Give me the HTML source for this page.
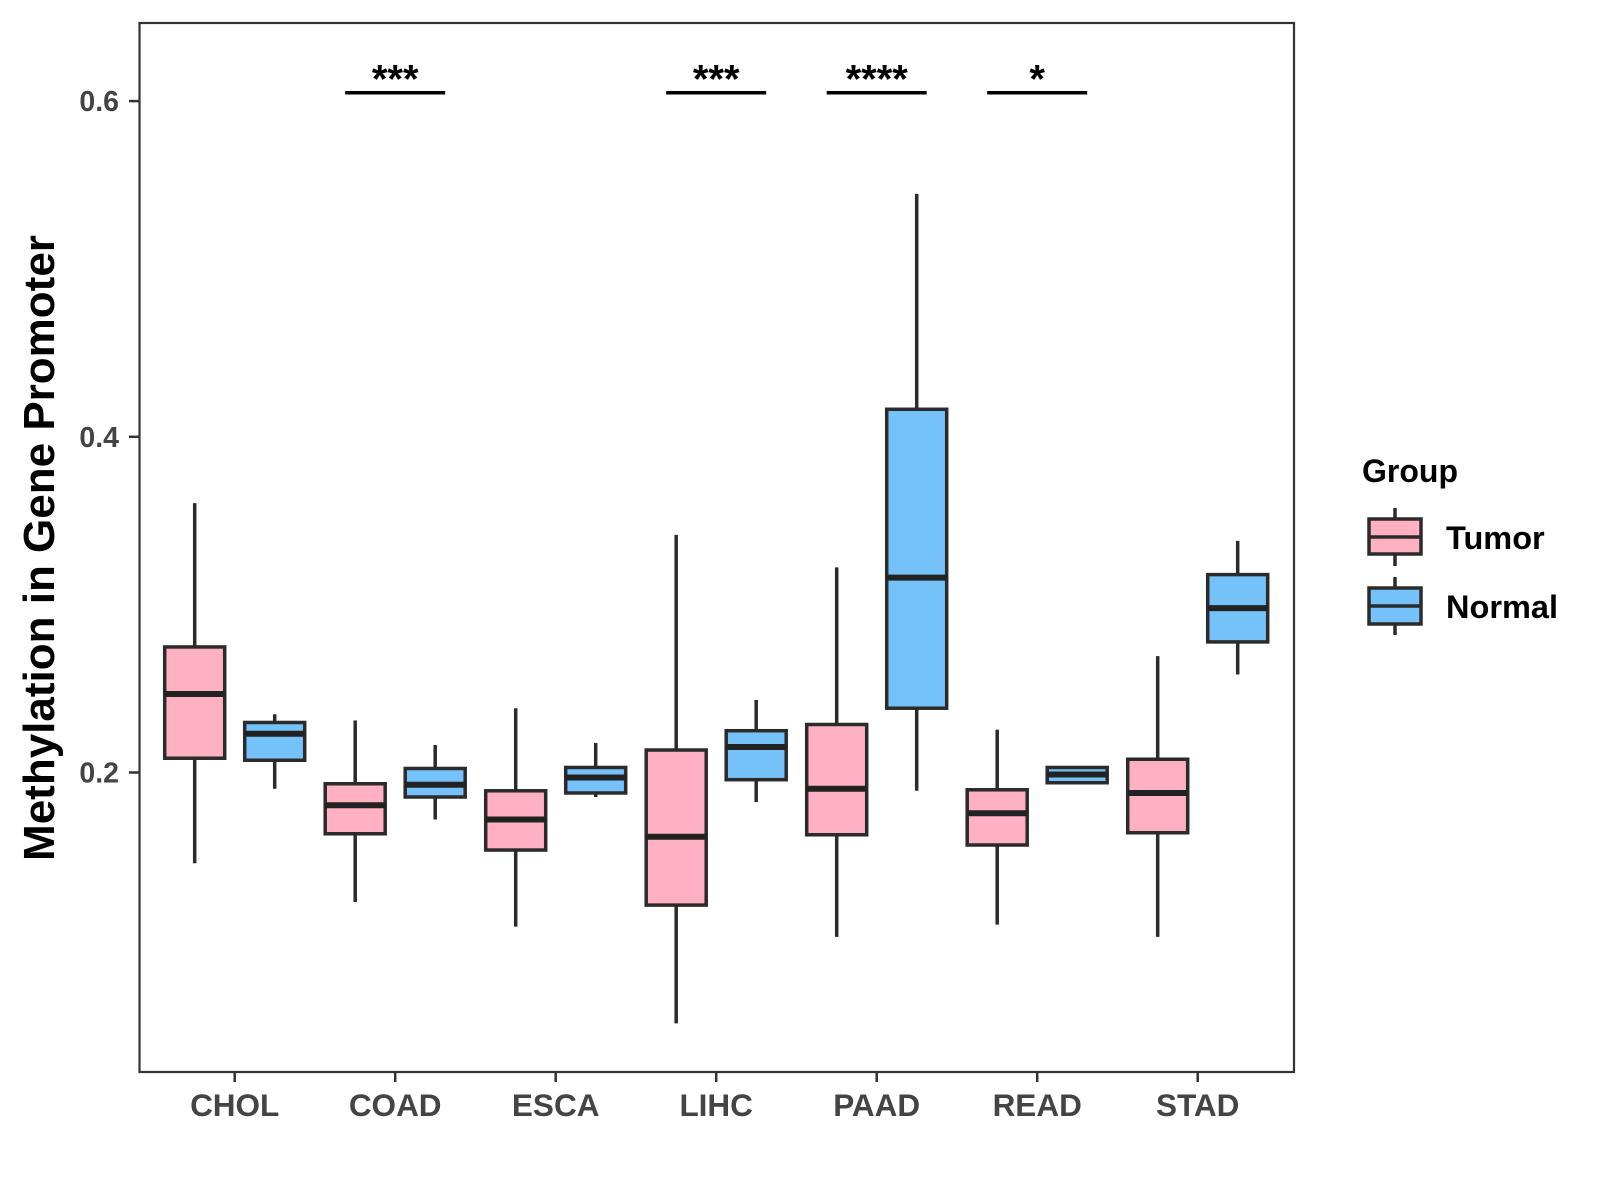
<!DOCTYPE html>
<html><head><meta charset="utf-8"><style>
body{margin:0;background:#fff}
svg{display:block;font-family:"Liberation Sans",sans-serif;font-weight:bold}
</style></head><body>
<svg id="chart" width="1600" height="1200" viewBox="0 0 1600 1200">
<rect x="0" y="0" width="1600" height="1200" fill="#fff"/>
<g id="marks"></g>
<rect x="139.5" y="23" width="1154.5" height="1049" fill="none" stroke="#333" stroke-width="2.2"/>
<g id="axes"></g>
<text x="0" y="0" transform="translate(54,548) rotate(-90)" text-anchor="middle" font-size="44" fill="#000">Methylation in Gene Promoter</text>
<g>
<text x="1362" y="482" font-size="32" fill="#000">Group</text>
<g>
<line x1="1395" y1="508" x2="1395" y2="566" stroke="#2b2b2b" stroke-width="3.5"/>
<rect x="1369" y="519" width="52" height="35" fill="#FFB1C1" stroke="#2b2b2b" stroke-width="3.5"/>
<line x1="1369" y1="537" x2="1421" y2="537" stroke="#2b2b2b" stroke-width="3.5"/>
<text x="1446" y="549" font-size="32.5" fill="#000">Tumor</text>
</g>
<g>
<line x1="1395" y1="577" x2="1395" y2="635" stroke="#2b2b2b" stroke-width="3.5"/>
<rect x="1369" y="588" width="52" height="36" fill="#75C1F9" stroke="#2b2b2b" stroke-width="3.5"/>
<line x1="1369" y1="606" x2="1421" y2="606" stroke="#2b2b2b" stroke-width="3.5"/>
<text x="1446" y="618" font-size="32.5" fill="#000">Normal</text>
</g>
</g>
</svg>
<script>
const categories=["CHOL","COAD","ESCA","LIHC","PAAD","READ","STAD"];
const tumorStats=[[0.1459,0.2085,0.2468,0.2748,0.3605],[0.1228,0.1635,0.1805,0.1933,0.2310],[0.1082,0.1538,0.1720,0.1891,0.2383],[0.0505,0.1210,0.1617,0.2134,0.3416],[0.1021,0.1629,0.1903,0.2286,0.3222],[0.1094,0.1568,0.1757,0.1897,0.2255],[0.1021,0.1641,0.1878,0.2079,0.2693]];
const normalStats=[[0.1903,0.2073,0.2231,0.2298,0.2347],[0.1720,0.1854,0.1927,0.2024,0.2164],[0.1854,0.1878,0.1970,0.2030,0.2176],[0.1824,0.1957,0.2152,0.2249,0.2432],[0.1891,0.2383,0.3161,0.4164,0.5447],[0.1939,0.1939,0.1988,0.2030,0.2030],[0.2584,0.2778,0.2979,0.3179,0.3380]];
const yTicks=[0.2,0.4,0.6];
const yTickLabels=["0.2","0.4","0.6"];
const sigCategories=["COAD","LIHC","PAAD","READ"];
const sigLabels=["***","***","****","*"];
const sigY=0.605;
const NS="http://www.w3.org/2000/svg";
const y=v=>772.5-(v-0.2)*1678.5;
const x=i=>234.7+i*160.5;
function mk(tag,attrs,parent){const e=document.createElementNS(NS,tag);for(const k in attrs)e.setAttribute(k,attrs[k]);parent.appendChild(e);return e;}
const marks=document.getElementById('marks'),axes=document.getElementById('axes');
function box(cx,s,fill,name){
  const g=mk('g',{},marks);
  
  
  const st={stroke:'#2b2b2b','stroke-width':3.5};
  mk('line',Object.assign({x1:cx,x2:cx,y1:y(s[4]),y2:y(s[3])},st),g);
  mk('line',Object.assign({x1:cx,x2:cx,y1:y(s[1]),y2:y(s[0])},st),g);
  mk('rect',Object.assign({x:cx-30,y:y(s[3]),width:60,height:Math.max(0,y(s[1])-y(s[3])),fill:fill},st),g);
  mk('line',{x1:cx-30,x2:cx+30,y1:y(s[2]),y2:y(s[2]),stroke:'#222','stroke-width':6},g);
}
categories.forEach((c,i)=>{
  box(x(i)-40,tumorStats[i],'#FFB1C1','box-tumor-'+c.toLowerCase());
  box(x(i)+40,normalStats[i],'#75C1F9','box-normal-'+c.toLowerCase());
  const t=mk('line',{x1:x(i),x2:x(i),y1:1072,y2:1082,stroke:'#333','stroke-width':2.5},axes);
  
  
  const l=mk('text',{x:x(i),y:1116,'text-anchor':'middle','font-size':31.5,fill:'#444'},axes);
  
  
  l.textContent=c;
});
yTicks.forEach((v,i)=>{
  const t=mk('line',{x1:129,x2:139.5,y1:y(v),y2:y(v),stroke:'#333','stroke-width':2.5},axes);
  
  
  const l=mk('text',{x:119,y:y(v)+10,'text-anchor':'end','font-size':28.5,fill:'#444'},axes);
  
  
  l.textContent=yTickLabels[i];
});
sigCategories.forEach((c,k)=>{
  const i=categories.indexOf(c);
  const b=mk('line',{x1:x(i)-50,x2:x(i)+50,y1:y(sigY),y2:y(sigY),stroke:'#000','stroke-width':3.5},marks);
  
  
  const t=mk('text',{x:x(i),y:y(sigY),'text-anchor':'middle','font-size':40,fill:'#000'},marks);
  
  
  t.textContent=sigLabels[k];
});
</script>
</body></html>
